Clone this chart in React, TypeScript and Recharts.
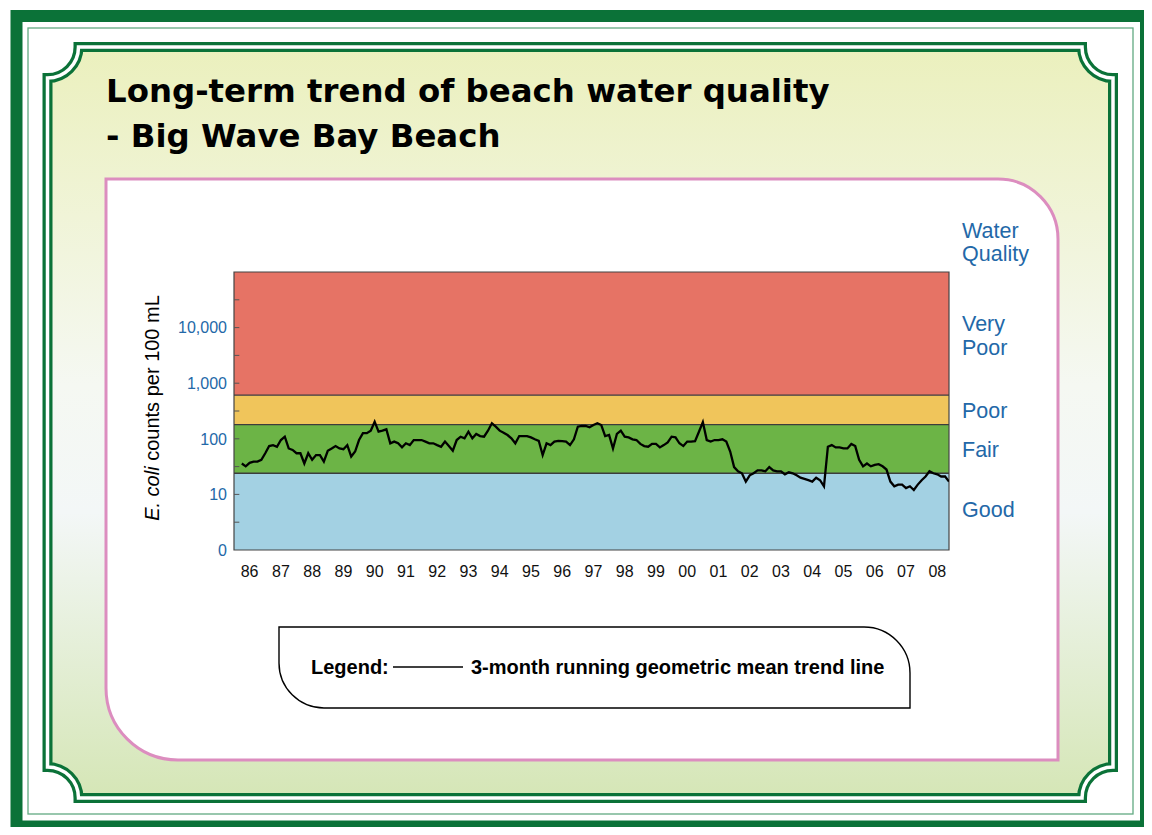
import React from "react";
import { LineChart, Line, XAxis, YAxis, ReferenceArea, ReferenceLine } from "recharts";

// 3-month running geometric mean, E. coli counts per 100 mL
// one reading every 1/8 year starting at 1986.25
const START_YEAR = 1986.25;
const STEP = 0.125;
const eColiCounts = [
  36, 32, 37, 39, 39, 42, 55, 74, 77, 72,
  95, 109, 67, 63, 55, 55, 36, 55, 42, 51,
  51, 39, 61, 67, 74, 67, 65, 77, 48, 59,
  95, 126, 126, 140, 203, 134, 140, 148, 83, 89,
  83, 70, 83, 77, 95, 95, 95, 89, 83, 83,
  77, 72, 89, 74, 61, 95, 109, 102, 134, 102,
  122, 112, 109, 140, 190, 165, 140, 129, 117, 102,
  83, 112, 112, 112, 106, 98, 92, 51, 83, 77,
  89, 92, 91, 89, 77, 98, 165, 170, 170, 161,
  177, 190, 177, 112, 117, 67, 122, 140, 109, 106,
  98, 95, 81, 74, 72, 81, 81, 70, 77, 86,
  109, 106, 83, 74, 89, 89, 91, 134, 200, 95,
  89, 95, 95, 98, 89, 59, 31, 26, 24, 17,
  22, 24, 27, 27, 26, 31, 27, 26, 26, 23,
  25, 24, 22, 20, 19, 18, 17, 20, 18, 14,
  72, 77, 70, 70, 67, 67, 81, 74, 42, 32,
  36, 32, 34, 35, 32, 28, 17, 14, 15, 15,
  13, 14, 12, 15, 18, 21, 26, 24, 23, 21,
  21, 17,
];

const yearLabels = [
  "86", "87", "88", "89", "90", "91", "92", "93", "94", "95", "96", "97",
  "98", "99", "00", "01", "02", "03", "04", "05", "06", "07", "08",
];

const countLabels = ["0", "10", "100", "1,000", "10,000"];

// water quality grading limits (counts per 100 mL)
const bandNames = ["Good", "Fair", "Poor", "Very Poor"];
const bandLimits = [1, 24, 180, 610, 100000];
const bandColors = ["#a3d1e3", "#6cb446", "#f0c55b", "#e67365"];

const PLOT_LEFT = 234;
const BLUE = "#2368a8";
const GREEN = "#0b7238";
const X_MIN = 1986;
const X_MAX = 2008.875;

const data = eColiCounts.map((c, i) => ({
  year: START_YEAR + i * STEP,
  logCount: Math.log10(c),
}));
const yearTicks = yearLabels.map((_, i) => 1986.5 + i);
const logTicks = [0, 0.5, 1, 1.5, 2, 2.5, 3, 3.5, 4, 4.5];

const YTick = (props: any) => {
  const { y, payload } = props;
  const v = payload.value;
  const label = Number.isInteger(v) ? countLabels[v] : null;
  if (!label) return <g />;
  return (
    <text x={PLOT_LEFT - 7} y={y} dy="0.36em" textAnchor="end" fill={BLUE} fontSize={16}
      fontFamily="'Liberation Sans', Arial, sans-serif">
      {label}
    </text>
  );
};

function frame(x0: number, y0: number, x1: number, y1: number, r: number) {
  return `M${x0 + r},${y0} H${x1 - r} A${r},${r} 0 0 0 ${x1},${y0 + r} V${y1 - r} A${r},${r} 0 0 0 ${x1 - r},${y1} H${x0 + r} A${r},${r} 0 0 0 ${x0},${y1 - r} V${y0 + r} A${r},${r} 0 0 0 ${x0 + r},${y0} Z`;
}

function Background() {
  const inner = frame(47.5, 47, 1113, 798, 31);
  const panel = "M106,179 H998 A60,60 0 0 1 1058,239 V760 H178 A72,72 0 0 1 106,688 Z";
  const legendBox = "M279,627 H864 A46,46 0 0 1 910,673 V708 H324 A45,45 0 0 1 279,663 Z";
  const sans = "'Liberation Sans', Arial, sans-serif";
  return (
    <svg width={1152} height={835} style={{ position: "absolute", left: 0, top: 0 }}>
      <defs>
        <linearGradient id="bg" x1="0" y1="0" x2="0" y2="1">
          <stop offset="0" stopColor="#ebf0bd" />
          <stop offset="0.45" stopColor="#f5f8f2" />
          <stop offset="0.62" stopColor="#f3f7f7" />
          <stop offset="1" stopColor="#d5e6b6" />
        </linearGradient>
      </defs>
      <rect x={0} y={0} width={1152} height={835} fill="#fff" />
      <rect x={4.5} y={4.5} width={1160} height={829} fill="none" stroke="#7dbb97" strokeWidth={1} />
      <rect x={16.5} y={16} width={1129.5} height={810.5} fill="none" stroke={GREEN} strokeWidth={12} />
      <rect x={28} y={28} width={1105} height={786} fill="none" stroke="#62aa82" strokeWidth={1.3} />
      <path d={inner} fill="url(#bg)" stroke={GREEN} strokeWidth={10} />
      <path d={inner} fill="none" stroke="#fff" strokeWidth={3.5} />
      <path d={panel} fill="#fff" stroke="#dc8dbf" strokeWidth={3} />

      <text x={106} y={102} fontFamily="'DejaVu Sans', Verdana, sans-serif" fontWeight="bold" fontSize={32.4} fill="#000">
        Long-term trend of beach water quality
      </text>
      <text x={106} y={147} fontFamily="'DejaVu Sans', Verdana, sans-serif" fontWeight="bold" fontSize={32.4} fill="#000">
        - Big Wave Bay Beach
      </text>

      <g fontFamily={sans} fontSize={21.5} fill={BLUE}>
        <text x={962} y={238}>Water</text>
        <text x={962} y={261}>Quality</text>
        <text x={962} y={331}>Very</text>
        <text x={962} y={355}>{bandNames[2]}</text>
        <text x={962} y={418}>{bandNames[2]}</text>
        <text x={962} y={457}>{bandNames[1]}</text>
        <text x={962} y={517}>{bandNames[0]}</text>
      </g>

      <text transform="translate(159,408) rotate(-90)" textAnchor="middle" fontFamily={sans} fontSize={20} fill="#000">
        <tspan fontStyle="italic">E. coli</tspan> counts per 100 mL
      </text>

      <path d={legendBox} fill="#fff" stroke="#000" strokeWidth={1.4} />
      <text x={311} y={674} fontFamily={sans} fontWeight="bold" fontSize={20} fill="#000">Legend:</text>
      <line x1={393} x2={463} y1={667} y2={667} stroke="#000" strokeWidth={1.5} />
      <text x={471} y={674} fontFamily={sans} fontWeight="bold" fontSize={20} fill="#000">
        3-month running geometric mean trend line
      </text>
    </svg>
  );
}

export default function App() {
  return (
    <div style={{ position: "relative", width: 1152, height: 835, margin: -8, overflow: "hidden" }}>
      <Background />
      <div style={{ position: "absolute", left: 0, top: 0 }}>
        <LineChart width={1152} height={835} data={data} margin={{ top: 272, right: 203, bottom: 255, left: 174 }}>
          {bandColors.map((c, i) => (
            <ReferenceArea key={i} y1={Math.log10(bandLimits[i])} y2={Math.log10(bandLimits[i + 1])}
              fill={c} fillOpacity={1} stroke="none" ifOverflow="hidden" />
          ))}
          {bandLimits.slice(1, 4).map((v, i) => (
            <ReferenceLine key={i} y={Math.log10(v)} stroke="#3c3c3c" strokeWidth={1.3} />
          ))}
          {logTicks.slice(1).map((v) => (
            <ReferenceLine key={"t" + v} segment={[{ x: X_MIN, y: v }, { x: X_MIN + 0.17, y: v }]}
              stroke="#555" strokeWidth={1} />
          ))}
          <XAxis type="number" dataKey="year" domain={[X_MIN, X_MAX]} ticks={yearTicks}
            tickFormatter={(v: number) => yearLabels[Math.round(v - 1986.5)]}
            axisLine={false} tickLine={false} tickSize={0} tickMargin={16} height={30}
            tick={{ fill: "#111", fontSize: 16, fontFamily: "'Liberation Sans', Arial, sans-serif" }}
            allowDataOverflow />
          <YAxis type="number" domain={[0, 5]} ticks={logTicks} tick={<YTick />} width={60}
            axisLine={false} tickLine={false} allowDataOverflow />
          <Line type="linear" dataKey="logCount" stroke="#000" strokeWidth={2.3} dot={false}
            activeDot={false} isAnimationActive={false} />
          <ReferenceArea x1={X_MIN} x2={X_MAX} y1={0} y2={5} fill="none" stroke="#444" strokeWidth={1.2} />
        </LineChart>
      </div>
    </div>
  );
}
